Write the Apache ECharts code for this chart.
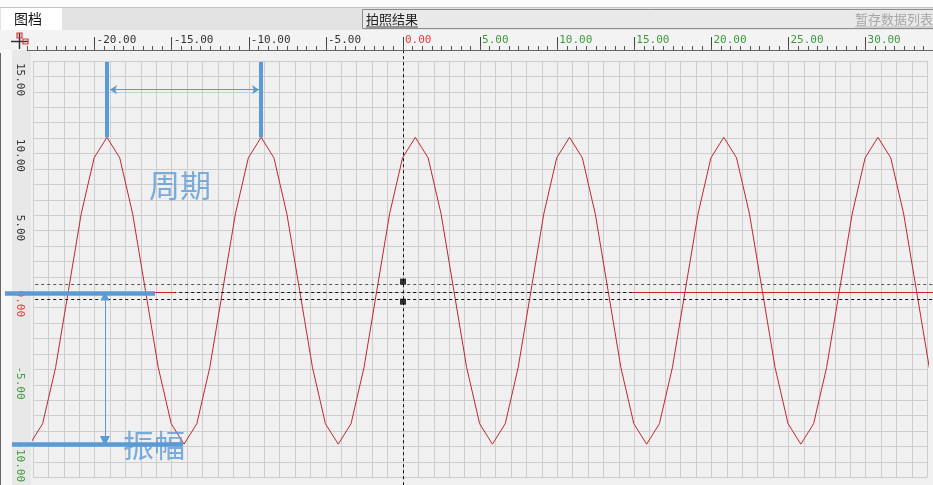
<!DOCTYPE html>
<html>
<head>
<meta charset="utf-8">
<script src="https://cdn.jsdelivr.net/npm/echarts@6/dist/echarts.min.js"></script>
<style>
html,body{margin:0;padding:0;background:#f0f0f0;}
#c{width:933px;height:485px;}
</style>
</head>
<body>
<div id="c"></div>
<script>
// ---- waveform samples (x, y) ----
const waveX = [-24.2,-23.37,-22.53,-21.7,-20.87,-20.03,-19.2,-18.37,-17.53,-16.7,-15.87,-15.03,
  -14.2,-13.37,-12.53,-11.7,-10.87,-10.03,-9.2,-8.37,-7.53,-6.7,-5.87,-5.03,
  -4.2,-3.37,-2.53,-1.7,-0.87,-0.03,0.8,1.63,2.47,3.3,4.13,4.97,
  5.8,6.63,7.47,8.3,9.13,9.97,10.8,11.63,12.47,13.3,14.13,14.97,
  15.8,16.63,17.47,18.3,19.13,19.97,20.8,21.63,22.47,23.3,24.13,24.97,
  25.8,26.63,27.47,28.3,29.13,29.97,30.8,31.63,32.47,33.3,34.13,34.97];
const waveY = [-9.85,-8.52,-4.88,0.10,5.08,8.72,10.05,8.72,5.08,0.10,-4.88,-8.52,
  -9.85,-8.52,-4.88,0.10,5.08,8.72,10.05,8.72,5.08,0.10,-4.88,-8.52,
  -9.85,-8.52,-4.88,0.10,5.08,8.72,10.05,8.72,5.08,0.10,-4.88,-8.52,
  -9.85,-8.52,-4.88,0.10,5.08,8.72,10.05,8.72,5.08,0.10,-4.88,-8.52,
  -9.85,-8.52,-4.88,0.10,5.08,8.72,10.05,8.72,5.08,0.10,-4.88,-8.52,
  -9.85,-8.52,-4.88,0.10,5.08,8.72,10.05,8.72,5.08,0.10,-4.88,-8.52];

// ---- ruler tick labels ----
const xRulerTicks = [-20,-15,-10,-5,0,5,10,15,20,25,30];
const yRulerTicks = [15,10,5,0,-5,-10];

// ---- cursors ----
const cursorLevels = [0.52, 0, -0.45];
const cursorLevelStart = -23.85;
const cursorMarks = [[0, 0.69], [0, -0.61]];
const redLevelSegments = [[-16.08, -14.79], [14.83, 35]];
const vCursorX = 0;

// ---- annotations ----
const periodBarX = [-19.2, -9.2];
const periodBarBottom = 10.05;
const periodBarTop = 14.94;
const periodArrow = [[-19.0, 13.14], [-9.34, 13.14]];
const ampTopLine = [[-25.81, -0.05], [-16.08, -0.05]];
const ampBottomLine = [[-25.36, -9.87], [-14.27, -9.87]];
const ampArrow = [[-19.33, -0.24], [-19.33, -9.64]];
const annoTexts = [{name: '周期', value: [-14.46, 6.96]}, {name: '振幅', value: [-16.15, -9.9]}];

const BLUE = '#5b9bd5';
const RED = '#c0282d';

function rulerColorX(v){ return v === 0 ? '#e03c3c' : (v > 0 ? '#3c9a3c' : '#333333'); }
function rulerColorY(v){ return v === 0 ? '#e03c3c' : (v < 0 ? '#3c9a3c' : '#333333'); }

const chart = echarts.init(document.getElementById('c'), null, {renderer: 'canvas'});

function hidden(gridIndex){
  return {gridIndex: gridIndex, type: 'value', min: 0, max: 1, show: false,
    axisLine: {show: false}, axisTick: {show: false}, axisLabel: {show: false}, splitLine: {show: false}};
}

const option = {
  backgroundColor: '#f0f0f0',
  animation: false,
  grid: [
    {left: 32.92, right: 5.72, top: 61.0, bottom: 7.66},     // 0 main plot
    {left: 94.6, right: 67.4, top: 30, height: 20},            // 1 top ruler labels
    {left: 0, right: 902, top: 61.0, bottom: 38.5},            // 2 left ruler labels
    {left: 27.14, right: 0, top: 30, height: 20},              // 3 top ruler small ticks
    {left: 0, right: 902, top: 53.29, bottom: 0}               // 4 left ruler small ticks
  ],
  xAxis: [
    {gridIndex: 0, type: 'value', min: -24, max: 34, interval: 1,
      axisLine: {show: false}, axisTick: {show: false}, axisLabel: {show: false},
      splitLine: {show: true, lineStyle: {color: '#cdcdcd', width: 1}}},
    {gridIndex: 1, type: 'value', min: -20, max: 30, interval: 5, z: 5,
      axisLine: {show: false},
      axisTick: {show: true, inside: true, length: 13, lineStyle: {color: '#444'}},
      splitLine: {show: false},
      axisLabel: {show: true, inside: true, margin: 10, align: 'left', verticalAlign: 'middle',
        padding: [0, 0, 0, 2],
        fontFamily: 'DejaVu Sans Mono', fontSize: 11,
        color: (v) => rulerColorX(Number(v)),
        formatter: (v) => xRulerTicks.indexOf(v) >= 0 ? v.toFixed(2) : ''}},
    hidden(2),
    {gridIndex: 3, type: 'value', min: -24.375, max: 34.37, interval: 0.625, z: 5,
      axisLine: {show: true, lineStyle: {color: '#666', width: 1}},
      axisTick: {show: true, inside: true, length: 4, lineStyle: {color: '#555'}},
      axisLabel: {show: false}, splitLine: {show: false}},
    hidden(4)
  ],
  yAxis: [
    {gridIndex: 0, type: 'value', min: -12, max: 15, interval: 1,
      axisLine: {show: false}, axisTick: {show: false}, axisLabel: {show: false},
      splitLine: {show: true, lineStyle: {color: '#cdcdcd', width: 1}}},
    hidden(1),
    {gridIndex: 2, type: 'value', min: -10, max: 15, interval: 5, position: 'right', z: 5,
      axisLine: {show: false},
      axisTick: {show: true, inside: true, length: 13, lineStyle: {color: '#444'}},
      splitLine: {show: false},
      axisLabel: {show: true, inside: true, margin: 11, rotate: -90, align: 'left', verticalAlign: 'middle',
        padding: [0, 0, 0, 2],
        fontFamily: 'DejaVu Sans Mono', fontSize: 11,
        color: (v) => rulerColorY(Number(v)),
        formatter: (v) => yRulerTicks.indexOf(v) >= 0 ? v.toFixed(2) : ''}},
    hidden(3),
    {gridIndex: 4, type: 'value', min: -12.5, max: 15.5, interval: 0.5, position: 'right', z: 5,
      axisLine: {show: true, lineStyle: {color: '#666', width: 1}},
      axisTick: {show: true, inside: true, length: 4, lineStyle: {color: '#555'}},
      axisLabel: {show: false}, splitLine: {show: false}}
  ],
  graphic: [
    {type: 'rect', z: 1, shape: {x: 0, y: 0, width: 933, height: 7}, style: {fill: '#fbfbfb'}},
    {type: 'rect', z: 1, shape: {x: 0, y: 7, width: 933, height: 23}, style: {fill: '#e3e3e3'}},
    {type: 'line', z: 1, shape: {x1: 0, y1: 7.5, x2: 933, y2: 7.5}, style: {stroke: '#c4c4c4', lineWidth: 1}},
    {type: 'rect', z: 1, shape: {x: 1, y: 8, width: 61, height: 22}, style: {fill: '#ffffff'}},
    {type: 'text', z: 2, style: {x: 14, y: 19, text: '图档', fill: '#111', font: '14px "Noto Sans CJK SC"', textVerticalAlign: 'middle'}},
    {type: 'rect', z: 1, shape: {x: 362.5, y: 9.5, width: 580, height: 19}, style: {fill: '#e9e9e9', stroke: '#8c8c8c', lineWidth: 1}},
    {type: 'text', z: 2, style: {x: 366, y: 19, text: '拍照结果', fill: '#222', font: '13px "Noto Sans CJK SC"', textVerticalAlign: 'middle'}},
    {type: 'line', z: 2, shape: {x1: 366, y1: 27, x2: 418, y2: 27}, style: {stroke: '#444', lineWidth: 1}},
    {type: 'text', z: 2, style: {x: 855, y: 19, text: '暂存数据列表', fill: '#a6a6a6', font: '13px "Noto Sans CJK SC"', textVerticalAlign: 'middle'}},
    {type: 'line', z: 2, shape: {x1: 855, y1: 27, x2: 933, y2: 27}, style: {stroke: '#b8b8b8', lineWidth: 1}},
    {type: 'rect', z: 1, shape: {x: 0, y: 30, width: 933, height: 20}, style: {fill: '#f3f3f3'}},
    {type: 'rect', z: 1, shape: {x: 0, y: 50, width: 12, height: 435}, style: {fill: '#f7f7f7'}},
    {type: 'rect', z: 1, shape: {x: 12, y: 50, width: 19, height: 435}, style: {fill: '#e8e8e8'}},
    {type: 'rect', z: 1, shape: {x: 0, y: 30, width: 31, height: 20}, style: {fill: '#f3f3f3'}},
    {type: 'line', z: 6, shape: {x1: 19.5, y1: 33, x2: 19.5, y2: 49}, style: {stroke: '#333', lineWidth: 1.5}},
    {type: 'line', z: 6, shape: {x1: 11, y1: 41.5, x2: 28, y2: 41.5}, style: {stroke: '#333', lineWidth: 1.5}},
    {type: 'rect', z: 6, shape: {x: 17, y: 33, width: 5, height: 5}, style: {fill: 'none', stroke: '#d9383a', lineWidth: 1.2}},
    {type: 'rect', z: 6, shape: {x: 23, y: 39, width: 5, height: 5}, style: {fill: 'none', stroke: '#d9383a', lineWidth: 1.2}}
  ],
  series: [
    {type: 'line', xAxisIndex: 0, yAxisIndex: 0, z: 2, clip: false, showSymbol: false, symbol: 'none',
      lineStyle: {color: RED, width: 1}, itemStyle: {color: RED},
      data: waveX.map((x, i) => [x, waveY[i]])},
    {type: 'lines', coordinateSystem: 'cartesian2d', xAxisIndex: 0, yAxisIndex: 0, z: 3, clip: false,
      lineStyle: {color: '#555', width: 1, type: [3, 3], opacity: 1},
      data: [{coords: [[cursorLevelStart, cursorLevels[0]], [35, cursorLevels[0]]]}]},
    {type: 'lines', coordinateSystem: 'cartesian2d', xAxisIndex: 0, yAxisIndex: 0, z: 3, clip: false,
      lineStyle: {color: '#111', width: 1, type: [3, 3], opacity: 1},
      data: cursorLevels.slice(1).map(v => ({coords: [[cursorLevelStart, v], [35, v]]}))},
    {type: 'lines', coordinateSystem: 'cartesian2d', xAxisIndex: 0, yAxisIndex: 0, z: 3, clip: false,
      lineStyle: {color: RED, width: 1, opacity: 1},
      data: redLevelSegments.map(s => ({coords: [[s[0], 0], [s[1], 0]]}))},
    {type: 'lines', coordinateSystem: 'cartesian2d', xAxisIndex: 0, yAxisIndex: 0, z: 3, clip: false,
      lineStyle: {color: '#111', width: 1, type: [3, 3], opacity: 1},
      data: [{coords: [[vCursorX, 15.7], [vCursorX, -12.6]]}]},
    {type: 'scatter', xAxisIndex: 0, yAxisIndex: 0, z: 4, symbol: 'rect', symbolSize: 6,
      itemStyle: {color: '#000'}, data: cursorMarks},
    // annotations
    {type: 'lines', coordinateSystem: 'cartesian2d', xAxisIndex: 0, yAxisIndex: 0, z: 7, clip: false,
      lineStyle: {color: BLUE, width: 4, opacity: 1},
      data: periodBarX.map(x => ({coords: [[x, periodBarBottom], [x, periodBarTop]]}))},
    {type: 'lines', coordinateSystem: 'cartesian2d', xAxisIndex: 0, yAxisIndex: 0, z: 7, clip: false,
      symbol: ['arrow', 'arrow'], symbolSize: 7,
      lineStyle: {color: BLUE, width: 1, opacity: 1},
      data: [{coords: periodArrow}]},
    {type: 'lines', coordinateSystem: 'cartesian2d', xAxisIndex: 0, yAxisIndex: 0, z: 7, clip: false,
      lineStyle: {color: BLUE, width: 4.5, opacity: 1},
      data: [{coords: ampTopLine}, {coords: ampBottomLine}]},
    {type: 'lines', coordinateSystem: 'cartesian2d', xAxisIndex: 0, yAxisIndex: 0, z: 7, clip: false,
      symbol: ['triangle', 'triangle'], symbolSize: [9, 10],
      lineStyle: {color: BLUE, width: 1, opacity: 1},
      data: [{coords: ampArrow}]},
    {type: 'scatter', xAxisIndex: 0, yAxisIndex: 0, z: 8, symbolSize: 0, clip: false,
      label: {show: true, position: 'inside', formatter: p => p.name, color: BLUE, fontSize: 31,
        fontFamily: 'Noto Sans CJK SC', fontWeight: 'normal'},
      data: annoTexts}
  ]
};
chart.setOption(option);
</script>
</body>
</html>
